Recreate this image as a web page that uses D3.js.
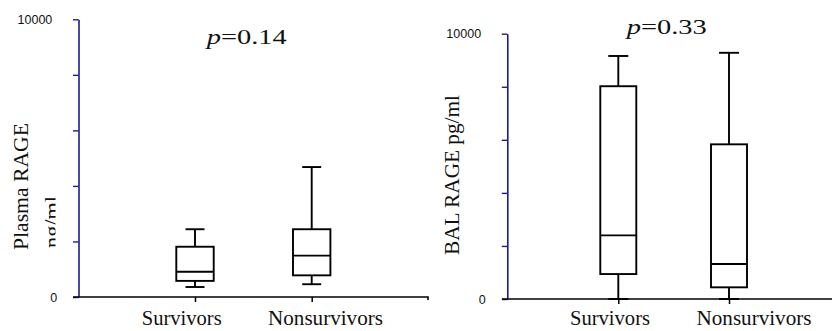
<!DOCTYPE html>
<html>
<head>
<meta charset="utf-8">
<script src="https://cdn.jsdelivr.net/npm/d3@7"></script>
<style>
  html, body { margin: 0; padding: 0; background: #fff; }
  svg { display: block; }
</style>
</head>
<body>
<svg id="chart" width="832" height="331"></svg>
<script>
// Groups compared in both panels
const categories = ["Survivors", "Nonsurvivors"];

// Shared y-axis ticks (only the ends carry a label)
const yTickValues = [0, 2000, 4000, 6000, 8000, 10000];
const yTickLabels = ["0", "", "", "", "", "10000"];

// Plasma RAGE (ng/ml): box-plot summaries per group
const plasmaMin    = [360, 460];
const plasmaQ1     = [580, 780];
const plasmaMedian = [910, 1490];
const plasmaQ3     = [1810, 2440];
const plasmaMax    = [2440, 4680];
const plasmaP      = "0.14";

// BAL RAGE (pg/ml): box-plot summaries per group
const balMin    = [0, 0];
const balQ1     = [940, 440];
const balMedian = [2400, 1320];
const balQ3     = [8020, 5830];
const balMax    = [9160, 9280];
const balP      = "0.33";

const AXIS_BLUE = "#1c1c8e";
const SERIF = "Liberation Serif";
const SANS = "Liberation Sans";

const svg = d3.select("#chart");

// Clip used to trim the second line of the plasma axis title
svg.append("defs").append("clipPath").attr("id", "unitClip")
  .append("rect").attr("x", 0).attr("y", 0).attr("width", 55.5).attr("height", 331);

const panels = [
  {
    stats: { min: plasmaMin, q1: plasmaQ1, med: plasmaMedian, q3: plasmaQ3, max: plasmaMax },
    p: plasmaP,
    axisX: 78.5, yTop: 19.3, yBottom: 297,
    baseStart: 73, baseEnd: 428, endTick: true,
    centers: [195, 311.7], labelCenters: [181.7, 325.5],
    boxW: 37.4, capW: 19,
    pX: 206.7, pY: 43.6,
    zeroDx: 5,
    titles: [
      { text: "Plasma RAGE", x: 27.5, y: 186.5, len: 127, clip: false },
      { text: "ng/ml", x: 59, y: 222, len: 52, clip: true }
    ]
  },
  {
    stats: { min: balMin, q1: balQ1, med: balMedian, q3: balQ3, max: balMax },
    p: balP,
    axisX: 507.3, yTop: 33.7, yBottom: 299,
    baseStart: 502, baseEnd: 832, endTick: false,
    centers: [618.3, 729], labelCenters: [610, 754],
    boxW: 36, capW: 20,
    pX: 626.7, pY: 33.6,
    zeroDx: 4.7,
    titles: [
      { text: "BAL RAGE pg/ml", x: 459, y: 175, len: 160, clip: false }
    ]
  }
];

panels.forEach(pn => {
  const g = svg.append("g");

  const y = d3.scaleLinear().domain([0, 10000]).range([pn.yBottom, pn.yTop]);
  const x = d3.scalePoint().domain(categories).range(pn.centers);
  const xl = d3.scalePoint().domain(categories).range(pn.labelCenters);

  // Y axis (blue line, left ticks, end labels)
  const yAxis = g.append("g")
    .attr("transform", `translate(${pn.axisX},0)`)
    .call(d3.axisLeft(y)
      .tickValues(yTickValues)
      .tickSize(5.5)
      .tickSizeOuter(0)
      .tickPadding(20.7)
      .tickFormat((d, i) => yTickLabels[i]));
  yAxis.attr("font-family", SANS).attr("font-size", 12.5);
  yAxis.select(".domain").attr("stroke", AXIS_BLUE).attr("stroke-width", 1.6);
  yAxis.selectAll(".tick line").attr("stroke", AXIS_BLUE).attr("stroke-width", 1.4);
  yAxis.selectAll(".tick text")
    .attr("fill", "#111")
    .attr("dx", d => d === 0 ? pn.zeroDx : 0);

  // X baseline
  const basePath = d3.path();
  basePath.moveTo(pn.baseStart, pn.yBottom);
  basePath.lineTo(pn.baseEnd, pn.yBottom);
  if (pn.endTick) basePath.lineTo(pn.baseEnd, pn.yBottom + 3);
  g.append("path").attr("d", basePath.toString())
    .attr("fill", "none").attr("stroke", "#000").attr("stroke-width", 1.6);

  // Category ticks below the baseline
  const xAxis = g.append("g")
    .attr("transform", `translate(0,${pn.yBottom})`)
    .call(d3.axisBottom(x).tickSize(5).tickFormat(""));
  xAxis.select(".domain").remove();
  xAxis.selectAll(".tick line").attr("stroke", "#000").attr("stroke-width", 1.5);

  // Category labels
  g.selectAll("text.cat").data(categories).join("text")
    .attr("class", "cat")
    .attr("x", d => xl(d))
    .attr("y", 325)
    .attr("text-anchor", "middle")
    .attr("textLength", d => d === "Survivors" ? 80 : 115)
    .attr("lengthAdjust", "spacingAndGlyphs")
    .attr("font-family", SERIF)
    .attr("font-size", 20)
    .attr("fill", "#111")
    .text(d => d);

  // Box plots
  const s = pn.stats;
  const boxes = g.selectAll("g.box").data(categories).join("g").attr("class", "box");
  boxes.each(function (d, i) {
    const b = d3.select(this);
    const cx = x(d);
    const line = (x1, y1, x2, y2) => b.append("line")
      .attr("x1", x1).attr("y1", y1).attr("x2", x2).attr("y2", y2)
      .attr("stroke", "#000").attr("stroke-width", 1.9);
    // whisker
    line(cx, y(s.max[i]), cx, y(s.min[i]));
    // caps
    line(cx - pn.capW / 2, y(s.max[i]), cx + pn.capW / 2, y(s.max[i]));
    line(cx - pn.capW / 2, y(s.min[i]), cx + pn.capW / 2, y(s.min[i]));
    // box
    b.append("rect")
      .attr("x", cx - pn.boxW / 2)
      .attr("y", y(s.q3[i]))
      .attr("width", pn.boxW)
      .attr("height", y(s.q1[i]) - y(s.q3[i]))
      .attr("fill", "#fff")
      .attr("stroke", "#000").attr("stroke-width", 1.9);
    // median
    line(cx - pn.boxW / 2, y(s.med[i]), cx + pn.boxW / 2, y(s.med[i]));
  });

  // Axis titles (rotated)
  pn.titles.forEach(t => {
    const holder = t.clip ? g.append("g").attr("clip-path", "url(#unitClip)") : g;
    holder.append("text")
      .attr("transform", `translate(${t.x},${t.y}) rotate(-90)`)
      .attr("text-anchor", "middle")
      .attr("textLength", t.len)
      .attr("lengthAdjust", "spacingAndGlyphs")
      .attr("font-family", SERIF)
      .attr("font-size", 21.5)
      .attr("fill", "#111")
      .text(t.text);
  });

  // p-value annotation
  const pt = g.append("text")
    .attr("x", pn.pX).attr("y", pn.pY)
    .attr("textLength", 80)
    .attr("lengthAdjust", "spacingAndGlyphs")
    .attr("font-family", SERIF)
    .attr("font-size", 21)
    .attr("fill", "#111");
  pt.append("tspan").attr("font-style", "italic").text("p");
  pt.append("tspan").text("=" + pn.p);
});
</script>
</body>
</html>
